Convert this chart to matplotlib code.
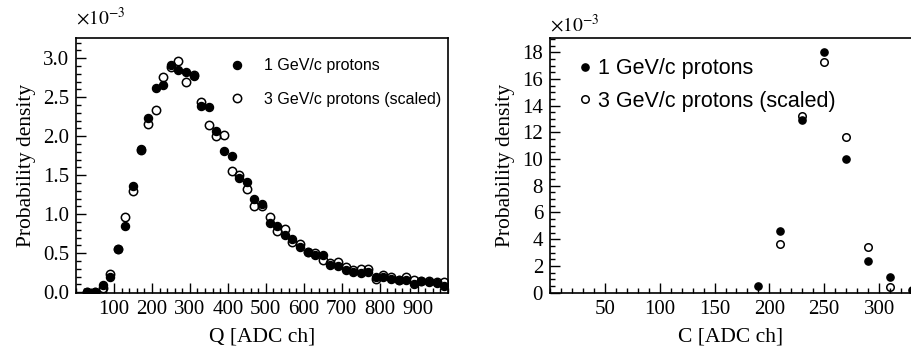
import numpy as np
import matplotlib
matplotlib.use('Agg')
import matplotlib.pyplot as plt
from matplotlib.ticker import MultipleLocator

plt.rcParams['font.family'] = ['Liberation Serif', 'DejaVu Serif']
plt.rcParams['mathtext.fontset'] = 'stix'

# charge spectrum Q, bin centres [ADC ch]
q_bins = np.arange(30, 980, 20)
q_1gev = [0.0, 0.0, 0.09, 0.20, 0.55, 0.855, 1.36, 1.84, 2.24, 2.62,
          2.66, 2.92, 2.85, 2.83, 2.77, 2.39, 2.38, 2.07, 1.81, 1.75,
          1.46, 1.41, 1.19, 1.13, 0.89, 0.85, 0.74, 0.68, 0.585, 0.52,
          0.48, 0.48, 0.35, 0.33, 0.29, 0.265, 0.25, 0.265, 0.20, 0.20,
          0.165, 0.16, 0.16, 0.11, 0.15, 0.125, 0.115, 0.08]
q_3gev = [0.0, 0.0, 0.06, 0.235, 0.56, 0.96, 1.30, 1.83, 2.16, 2.34,
          2.76, 2.89, 2.97, 2.70, 2.79, 2.44, 2.15, 2.00, 2.01, 1.56,
          1.50, 1.32, 1.10, 1.10, 0.96, 0.79, 0.81, 0.64, 0.615, 0.52,
          0.50, 0.415, 0.37, 0.385, 0.32, 0.285, 0.295, 0.295, 0.165, 0.22,
          0.20, 0.16, 0.20, 0.16, 0.14, 0.14, 0.125, 0.125]

# Cherenkov spectrum C
c_bins_1 = [190, 210, 230, 250, 270, 290, 310, 330]
c_1gev = [0.475, 4.6, 12.93, 18.05, 10.0, 2.35, 1.18, 0.2]
c_bins_3 = [210, 230, 250, 270, 290, 310]
c_3gev = [3.65, 13.22, 17.3, 11.65, 3.42, 0.4]

lab1 = '1 GeV/c protons'
lab3 = '3 GeV/c protons (scaled)'

fig = plt.figure(figsize=(9.12, 3.54), dpi=100)
ax1 = fig.add_axes([76/912, 61/354, 372/912, 255/354])
ax2 = fig.add_axes([550/912, 61/354, 362/912, 255/354])

def style(ax):
    ax.tick_params(which='both', direction='in', top=False, right=False,
                   labelsize=15, width=1.0, color='black')
    ax.tick_params(which='major', length=7.5, pad=5)
    ax.tick_params(which='minor', length=3.8)
    for s in ax.spines.values():
        s.set_linewidth(1.2)

# left panel
ax1.plot(q_bins, q_1gev, 'o', ms=5.8, color='black', mec='black', label=lab1)
ax1.plot(q_bins, q_3gev, 'o', ms=6.0, mfc='none', mec='black', mew=1.1, label=lab3)
ax1.set_xlim(0, 980)
ax1.set_ylim(-0.01, 3.26)
ax1.xaxis.set_minor_locator(MultipleLocator(20))
ax1.yaxis.set_minor_locator(MultipleLocator(0.1))
ax1.set_xticks(np.arange(100, 1000, 100))
ax1.set_yticks(np.arange(0, 3.01, 0.5))
ax1.set_yticklabels(['%.1f' % v for v in np.arange(0, 3.01, 0.5)])
style(ax1)
ax1.set_xlabel('Q [ADC ch]', fontsize=15.5, labelpad=6)
ax1.set_ylabel('Probability density', fontsize=15.5, labelpad=5)
ax1.text(0.0, 1.035, r'$\times10^{-3}$', transform=ax1.transAxes, fontsize=14,
         ha='left', va='bottom')
ax1.legend(loc='upper left', bbox_to_anchor=(0.395, 0.945), frameon=False,
           prop={'family': 'Liberation Sans', 'size': 11.5},
           handletextpad=1.2, labelspacing=1.15, handlelength=1.0,
           borderaxespad=0)

# right panel
ax2.plot(c_bins_1, c_1gev, 'o', ms=5.2, color='black', label=lab1)
ax2.plot(c_bins_3, c_3gev, 'o', ms=5.4, mfc='none', mec='black', mew=1.1, label=lab3)
ax2.set_xlim(0, 330)
ax2.set_ylim(-0.03, 19.07)
ax2.xaxis.set_minor_locator(MultipleLocator(10))
ax2.yaxis.set_minor_locator(MultipleLocator(0.5))
ax2.set_xticks(np.arange(50, 301, 50))
ax2.set_yticks(np.arange(0, 19, 2))
ax2.spines['right'].set_visible(False)
style(ax2)
ax2.set_xlabel('C [ADC ch]', fontsize=15.5, labelpad=6)
ax2.set_ylabel('Probability density', fontsize=15.5, labelpad=5)
ax2.text(0.0, 1.01, r'$\times10^{-3}$', transform=ax2.transAxes, fontsize=14,
         ha='left', va='bottom')
ax2.legend(loc='upper left', bbox_to_anchor=(0.05, 0.955), frameon=False,
           prop={'family': 'Liberation Sans', 'size': 15.5},
           handletextpad=0.2, labelspacing=0.55, handlelength=0.8,
           borderaxespad=0)

fig.savefig('out.png', dpi=100)
